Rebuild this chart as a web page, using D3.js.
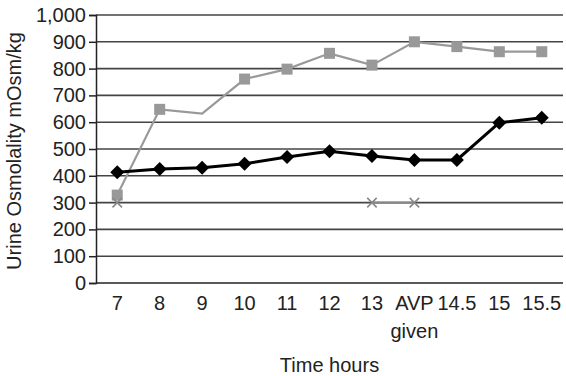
<!DOCTYPE html>
<html>
<head>
<meta charset="utf-8">
<script src="https://cdn.jsdelivr.net/npm/d3@7"></script>
<style>
  body { margin: 0; background: #fff; }
  svg { font-family: "Liberation Sans", Arial, sans-serif; }
</style>
</head>
<body>
<div id="chart"></div>
<script>
const categories = ["7", "8", "9", "10", "11", "12", "13", "AVP given", "14.5", "15", "15.5"];
const blackSeries = [413, 425, 430, 445, 470, 492, 474, 459, 459, 598, 617];
const graySeries = [328, 648, 632, 761, 798, 857, 813, 900, 882, 863, 863];
const graySquareShown = [true, true, false, true, true, true, true, true, true, true, true];
const crossSeries = [300, null, null, null, null, null, 300, 300, null, null, null];
const yTicks = [0, 100, 200, 300, 400, 500, 600, 700, 800, 900, 1000];

const width = 566, height = 376;
const margin = {top: 15, right: 3, bottom: 93, left: 96};
const innerW = width - margin.left - margin.right;
const innerH = height - margin.top - margin.bottom;
const fs = 20;

const svg = d3.select("#chart").append("svg")
    .attr("width", width)
    .attr("height", height);

const g = svg.append("g")
    .attr("transform", `translate(${margin.left},${margin.top})`);

// scales
const x = d3.scaleBand()
    .domain(categories)
    .range([0, innerW]);

const y = d3.scaleLinear()
    .domain([0, 1000])
    .range([innerH, 0]);

const cx = d => x(d) + x.bandwidth() / 2;

// gridlines
g.append("g")
    .selectAll("line")
    .data(yTicks.filter(t => t > 0))
    .enter().append("line")
    .attr("x1", 0)
    .attr("x2", innerW)
    .attr("y1", d => y(d))
    .attr("y2", d => y(d))
    .attr("stroke", "#444")
    .attr("stroke-width", 1.6);

// y axis
const yAxis = g.append("g")
    .call(d3.axisLeft(y).tickValues(yTicks).tickSize(7).tickPadding(3).tickFormat(d3.format(",")));
yAxis.select(".domain").attr("stroke", "#222").attr("stroke-width", 1.5);
yAxis.selectAll(".tick line").attr("stroke", "#222").attr("stroke-width", 1.5);
yAxis.selectAll("text").attr("font-size", fs).attr("fill", "#222");

// x axis line
g.append("line")
    .attr("x1", 0).attr("x2", innerW)
    .attr("y1", innerH).attr("y2", innerH)
    .attr("stroke", "#222").attr("stroke-width", 1.5);

// x labels
const xl = g.append("g")
    .selectAll("text")
    .data(categories)
    .enter().append("text")
    .attr("x", d => cx(d))
    .attr("y", innerH + 27)
    .attr("text-anchor", "middle")
    .attr("font-size", fs)
    .attr("fill", "#222");
xl.each(function(d) {
    const parts = d.split(" ");
    d3.select(this).selectAll("tspan")
        .data(parts)
        .enter().append("tspan")
        .attr("x", cx(d))
        .attr("dy", (p, i) => i === 0 ? 0 : 28)
        .text(p => p);
});

// axis titles
svg.append("text")
    .attr("x", margin.left + innerW / 2)
    .attr("y", 372)
    .attr("text-anchor", "middle")
    .attr("font-size", fs)
    .attr("fill", "#222")
    .text("Time hours");

svg.append("text")
    .attr("transform", `translate(21,${margin.top + innerH / 2 + 2}) rotate(-90)`)
    .attr("text-anchor", "middle")
    .attr("font-size", fs)
    .attr("fill", "#222")
    .text("Urine Osmolality mOsm/kg");

const line = d3.line()
    .defined(d => d.v != null)
    .x(d => cx(d.c))
    .y(d => y(d.v));

const toPts = arr => categories.map((c, i) => ({c: c, v: arr[i], i: i}));

// gray series
g.append("path")
    .datum(toPts(graySeries))
    .attr("fill", "none")
    .attr("stroke", "#999")
    .attr("stroke-width", 2.2)
    .attr("d", line);
g.append("g")
    .selectAll("rect")
    .data(toPts(graySeries).filter(d => graySquareShown[d.i]))
    .enter().append("rect")
    .attr("x", d => cx(d.c) - 5.5)
    .attr("y", d => y(d.v) - 5.5)
    .attr("width", 11)
    .attr("height", 11)
    .attr("fill", "#999");

// cross series
g.append("path")
    .datum(toPts(crossSeries))
    .attr("fill", "none")
    .attr("stroke", "#888")
    .attr("stroke-width", 2.2)
    .attr("d", line);
g.append("g")
    .selectAll("path")
    .data(toPts(crossSeries).filter(d => d.v != null))
    .enter().append("path")
    .attr("d", d3.symbol(d3.symbolCross2 || d3.symbolX, 60))
    .attr("transform", d => `translate(${cx(d.c)},${y(d.v)})`)
    .attr("fill", "none")
    .attr("stroke", "#888")
    .attr("stroke-width", 1.6);

// black series
g.append("path")
    .datum(toPts(blackSeries))
    .attr("fill", "none")
    .attr("stroke", "#000")
    .attr("stroke-width", 3)
    .attr("d", line);
g.append("g")
    .selectAll("path")
    .data(toPts(blackSeries))
    .enter().append("path")
    .attr("d", "M0,-7L7,0L0,7L-7,0Z")
    .attr("transform", d => `translate(${cx(d.c)},${y(d.v)})`)
    .attr("fill", "#000");
</script>
</body>
</html>
